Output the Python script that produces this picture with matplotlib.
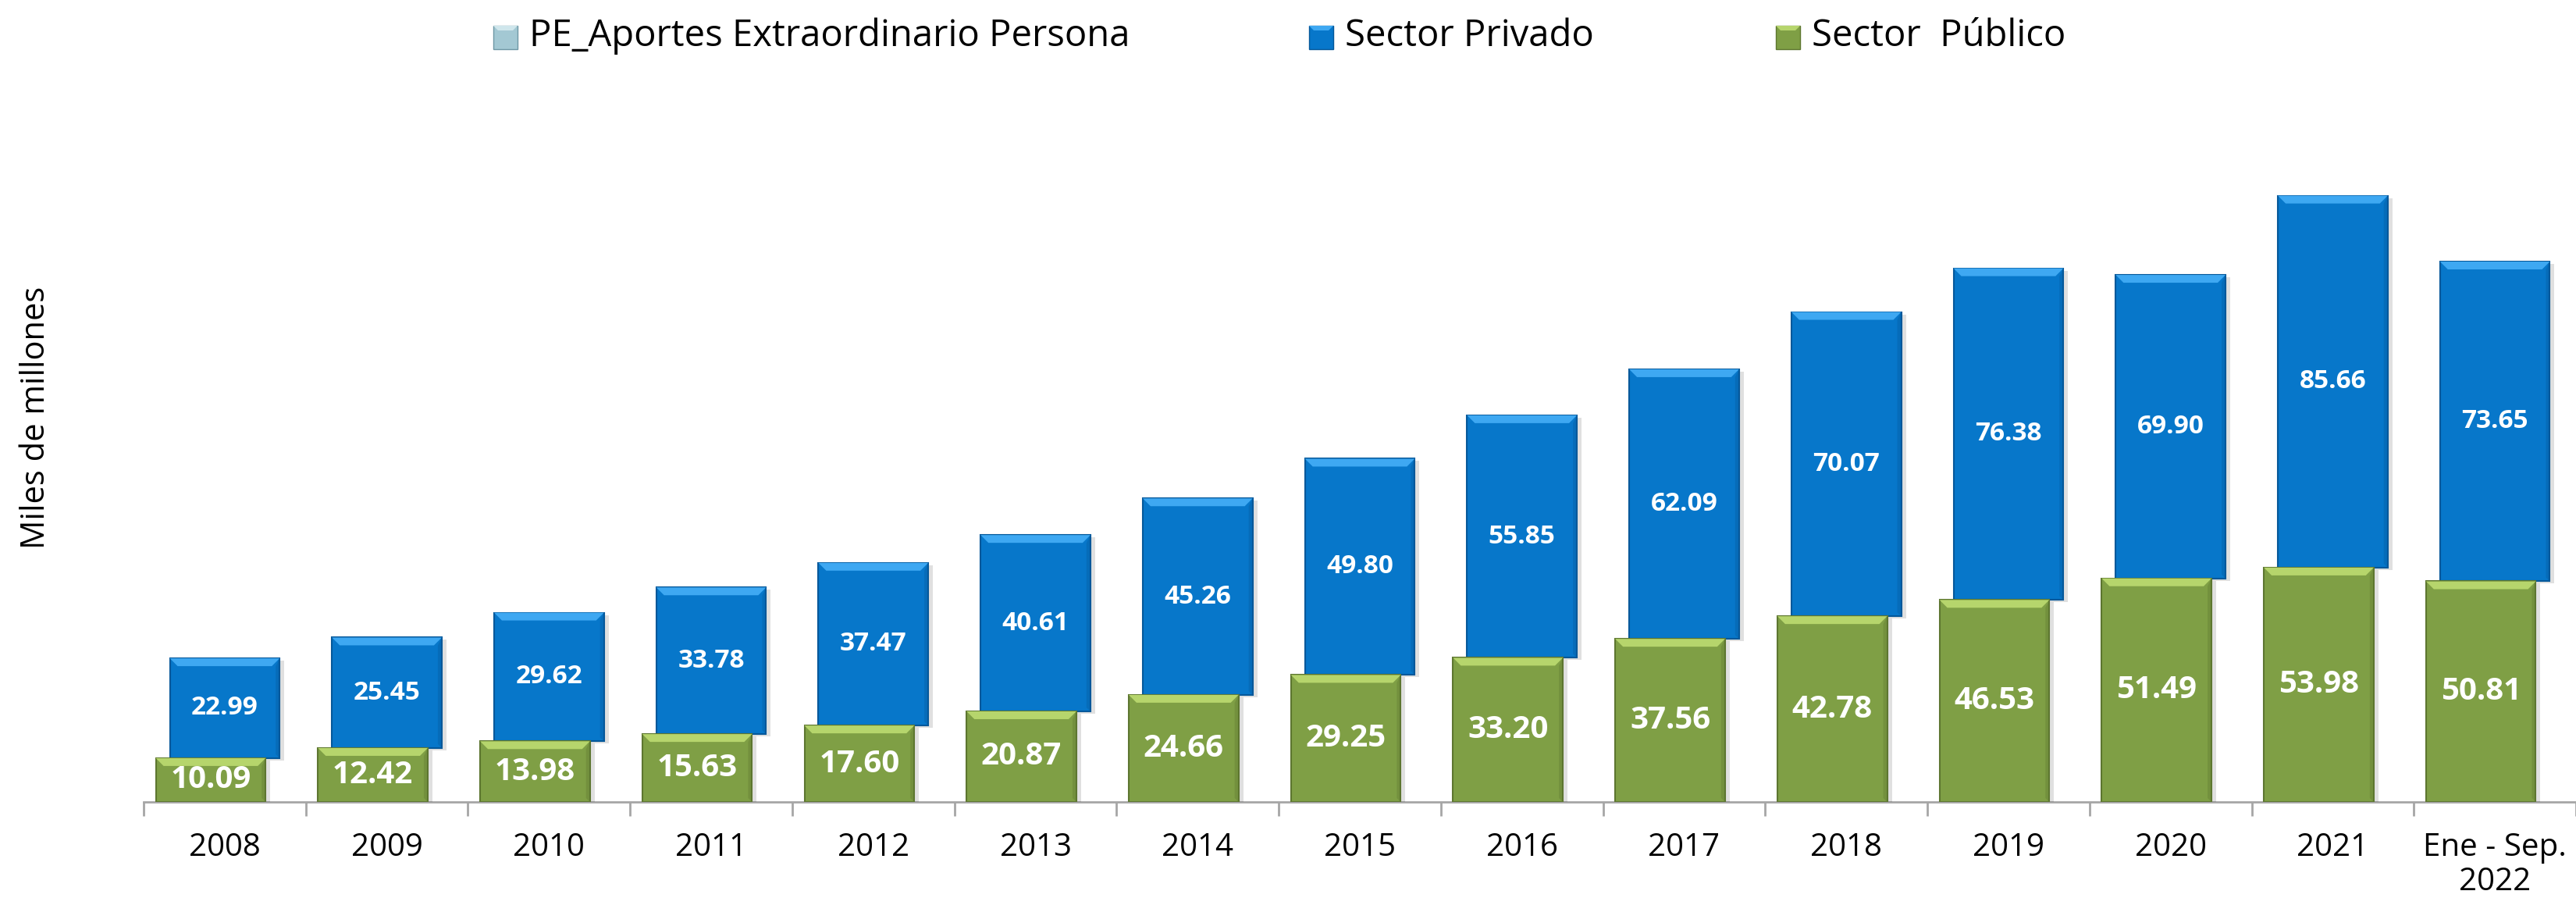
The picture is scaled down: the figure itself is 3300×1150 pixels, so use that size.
import numpy as np
import matplotlib.pyplot as plt
from matplotlib.patches import Rectangle, Polygon

# data
years = ["2008", "2009", "2010", "2011", "2012", "2013", "2014", "2015",
         "2016", "2017", "2018", "2019", "2020", "2021", "Ene - Sep.\n2022"]
publico = [10.09, 12.42, 13.98, 15.63, 17.60, 20.87, 24.66, 29.25,
           33.20, 37.56, 42.78, 46.53, 51.49, 53.98, 50.81]
privado = [22.99, 25.45, 29.62, 33.78, 37.47, 40.61, 45.26, 49.80,
           55.85, 62.09, 70.07, 76.38, 69.90, 85.66, 73.65]
legend_labels = ["PE_Aportes Extraordinario Persona", "Sector Privado", "Sector  Público"]

blue = "#0777ca"
blue_top = "#3ea8f2"
blue_edge = "#05589a"
green = "#7f9f45"
green_top = "#b6d56c"
green_edge = "#5d7630"
pe_col = "#a3c8d3"
pe_top = "#cfe6ec"
pe_edge = "#6f98a5"

FONT = "Open Sans"

W, H = 3300, 1150
fig = plt.figure(figsize=(W / 100, H / 100), dpi=100)

# axes in pixel layout
x0_px, base_px, top_px = 184, 1027, 150
cat_px = 208.2
unit_px = 5.56
ax = fig.add_axes([x0_px / W, (H - base_px) / H, (W - x0_px) / W, (base_px - top_px) / H])
ax.set_xlim(-0.5, -0.5 + (W - x0_px) / cat_px)
ax.set_ylim(0, (base_px - top_px) / unit_px)

bw = 0.677
g_off = -18 / cat_px
bev_x = 10 / cat_px
bev_y = 10 / unit_px
sh_x = 6 / cat_px
sh_y = 3 / unit_px


def bar3d(xc, bottom, height, fc, tc, ec, z):
    xl = xc - bw / 2
    xr = xc + bw / 2
    top = bottom + height
    # soft shadow
    ax.add_patch(Rectangle((xl + sh_x, bottom - sh_y), bw, height, facecolor="#000000",
                           alpha=0.12, edgecolor="none", zorder=z - 0.5))
    ax.add_patch(Rectangle((xl, bottom), bw, height, facecolor=fc, edgecolor=ec,
                           linewidth=1.5, zorder=z))
    # bevel on top
    ax.add_patch(Polygon([(xl, top), (xr, top), (xr - bev_x, top - bev_y), (xl + bev_x, top - bev_y)],
                         closed=True, facecolor=tc, edgecolor="none", zorder=z + 0.1))
    # darker right edge
    ax.add_patch(Polygon([(xr, top), (xr, bottom), (xr - bev_x * 0.5, bottom + bev_y * 0.5),
                          (xr - bev_x * 0.5, top - bev_y)],
                         closed=True, facecolor=ec, alpha=0.35, edgecolor="none", zorder=z + 0.1))


x = np.arange(len(years))
for i in x:
    bar3d(i, publico[i], privado[i], blue, blue_top, blue_edge, 3)
    bar3d(i + g_off, 0, publico[i], green, green_top, green_edge, 4)
    ax.text(i, publico[i] + privado[i] / 2, f"{privado[i]:.2f}", ha="center", va="center",
            color="white", fontsize=24, fontweight="bold", family=FONT, zorder=6)
    ax.text(i + g_off, publico[i] / 2, f"{publico[i]:.2f}", ha="center", va="center",
            color="white", fontsize=29, fontweight="bold", family=FONT, zorder=6)

# axes styling
for s in ["top", "right", "left"]:
    ax.spines[s].set_visible(False)
ax.spines["bottom"].set_color("#a6a6a6")
ax.spines["bottom"].set_linewidth(2)
ax.set_yticks([])
ax.set_xticks(np.arange(len(years) + 1) - 0.5)
ax.set_xticklabels([])
ax.tick_params(axis="x", length=13, width=2, color="#a6a6a6")
for i, lab in enumerate(years):
    ax.text(i, -7.0, lab, ha="center", va="top", fontsize=29, family=FONT,
            color="black", linespacing=1.1)

fig.text(46 / W, 1 - 535 / H, "Miles de millones", rotation=90, ha="center", va="center",
         fontsize=30, family=FONT)

# legend (manual, with small bevelled markers)
leg_cols = [pe_col, blue, green]
leg_tops = [pe_top, blue_top, green_top]
leg_edges = [pe_edge, blue_edge, green_edge]
leg_x = [632, 1677, 2275]
mw, mh, mb = 31, 30, 6
for lx, lab, col, tc, ec in zip(leg_x, legend_labels, leg_cols, leg_tops, leg_edges):
    y0 = H - 63
    fig.patches.append(Rectangle((lx / W, y0 / H), mw / W, mh / H, transform=fig.transFigure,
                                 facecolor=col, edgecolor=ec, linewidth=1, figure=fig))
    fig.patches.append(Polygon([(lx / W, (y0 + mh) / H), ((lx + mw) / W, (y0 + mh) / H),
                                ((lx + mw - mb) / W, (y0 + mh - mb) / H),
                                ((lx + mb) / W, (y0 + mh - mb) / H)],
                               closed=True, transform=fig.transFigure, facecolor=tc,
                               edgecolor="none", figure=fig))
    fig.text((lx + 46) / W, 1 - 46 / H, lab, ha="left", va="center", fontsize=34, family=FONT)

fig.savefig("out.png", dpi=100)
